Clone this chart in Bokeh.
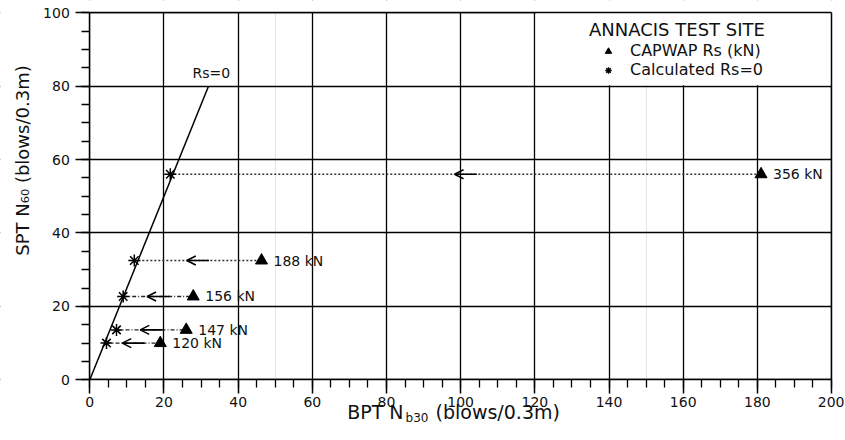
import math
from bokeh.plotting import figure
from bokeh.models import (SingleIntervalTicker, FixedTicker, Range1d, Label, Legend, LegendItem,
                          Arrow, OpenHead, ColumnDataSource, BoxAnnotation, CDSView, IndexFilter,
                          LinearAxis, Grid)
from bokeh.core.properties import value
from bokeh.embed import file_html
from bokeh.resources import INLINE

# ---- data ----
capwap_rs = ["356 kN", "188 kN", "156 kN", "147 kN", "120 kN"]
n60 = [56.0, 32.5, 22.7, 13.6, 10.0]
nb30_capwap = [181.0, 46.3, 27.9, 26.0, 19.0]
nb30_calc = [21.7, 12.0, 9.0, 7.2, 4.5]
rs0_x = [0, 32]
rs0_y = [0, 80]
x_bounds = (0, 200)
y_bounds = (0, 100)
tick_interval = 20

FONT = "DejaVu Sans"
INK = "#111111"

mid = [(a + b) / 2 for a, b in zip(nb30_calc, nb30_capwap)]
src = ColumnDataSource(dict(
    calc=nb30_calc, capwap=nb30_capwap, n60=n60, label=capwap_rs,
    xs=[m + 3 for m in mid], xe=[m - 3 for m in mid],
))

# frame fills the whole canvas; axes are fixed at the data origin
p = figure(width=844, height=439, x_range=Range1d(-24.08, 203.5), y_range=Range1d(-16.27, 103.35),
           output_backend="svg", toolbar_location=None,
           x_axis_location=None, y_axis_location=None, min_border=0)
p.background_fill_color = "white"
p.border_fill_color = "white"
p.outline_line_color = None

for dim in (0, 1):
    g = Grid(dimension=dim, ticker=SingleIntervalTicker(interval=tick_interval),
             grid_line_color="black", grid_line_width=1.3)
    p.add_layout(g, "center")

# white masks outside the plotting area and behind the legend
for kw in (dict(right=x_bounds[0]), dict(top=y_bounds[0]), dict(left=x_bounds[1]),
           dict(bottom=y_bounds[1]), dict(left=120.25, bottom=80.25)):
    p.add_layout(BoxAnnotation(fill_color="white", fill_alpha=1, line_alpha=0,
                               level="underlay", **kw))


def style_axis(ax):
    ax.axis_line_color = "black"
    ax.axis_line_width = 1.5
    ax.major_tick_line_color = "black"
    ax.major_tick_line_width = 1.5
    ax.minor_tick_line_color = "black"
    ax.minor_tick_line_width = 1.3
    ax.major_tick_in = 0
    ax.minor_tick_in = 0
    ax.major_tick_out = 14
    ax.minor_tick_out = 8
    ax.major_label_text_font = FONT
    ax.major_label_text_font_size = "14px"
    ax.major_label_text_color = INK


xax = LinearAxis(fixed_location=0, bounds=x_bounds,
                 ticker=SingleIntervalTicker(interval=tick_interval, num_minor_ticks=4))
style_axis(xax)
xax.major_label_standoff = 3
p.add_layout(xax, "below")

yax = LinearAxis(fixed_location=0, bounds=y_bounds,
                 ticker=SingleIntervalTicker(interval=tick_interval, num_minor_ticks=4))
style_axis(yax)
yax.major_label_standoff = 6
p.add_layout(yax, "left")

# top and right border lines
for place, loc, bnds in (("above", y_bounds[1], x_bounds), ("right", x_bounds[1], y_bounds)):
    b = LinearAxis(fixed_location=loc, bounds=bnds, ticker=FixedTicker(ticks=[]),
                   axis_line_color="black", axis_line_width=1.5,
                   major_tick_out=0, major_tick_in=0, minor_tick_out=0, minor_tick_in=0)
    p.add_layout(b, place)

# dotted connection lines
p.segment(x0="calc", y0="n60", x1="capwap", y1="n60", source=src,
          view=CDSView(filter=IndexFilter([0, 1])),
          line_color="#333333", line_width=1.3, line_dash="2 2")
p.segment(x0="calc", y0="n60", x1="capwap", y1="n60", source=src,
          view=CDSView(filter=IndexFilter([2, 3, 4])),
          line_color="#222222", line_width=1.3, line_dash="4 2 1 2")

# Rs = 0 line
p.line(rs0_x, rs0_y, line_color="black", line_width=1.5)

# arrows
p.add_layout(Arrow(end=OpenHead(size=9, line_width=1.5, line_color="black"),
                   x_start="xs", y_start="n60", x_end="xe", y_end="n60",
                   source=src, line_width=1.6, line_color="black"))

tri = p.scatter(x="capwap", y="n60", source=src, marker="triangle", size=12,
                fill_color="black", line_color="black")
ast = p.scatter(x="calc", y="n60", source=src, marker="asterisk", size=12,
                line_color="black", line_width=1.5)

p.text(x="capwap", y="n60", text="label", source=src, x_offset=12,
       text_baseline="middle", text_align="left", text_font=value(FONT),
       text_font_size="14px", text_color=INK)

p.add_layout(Label(x=rs0_x[1], y=rs0_y[1], text="Rs=0", x_offset=-16, y_offset=5,
                   text_font=FONT, text_font_size="14px", text_color=INK,
                   text_baseline="bottom", text_align="left"))

legend = Legend(items=[LegendItem(label="CAPWAP Rs (kN)", renderers=[tri]),
                       LegendItem(label="Calculated Rs=0", renderers=[ast])],
                title="ANNACIS TEST SITE", location=(589, 360),
                title_text_font=FONT, title_text_font_size="18px", title_text_font_style="normal",
                title_text_color=INK, title_standoff=1,
                label_text_font=FONT, label_text_font_size="16px", label_text_color=INK,
                glyph_width=38, glyph_height=16, label_height=16, label_standoff=3,
                spacing=0, padding=0, margin=0,
                background_fill_alpha=0, border_line_alpha=0)
p.add_layout(legend)

# axis titles
p.add_layout(Label(x=-18.15, y=59.75, text="SPT N\u2086\u2080 (blows/0.3m)", angle=math.pi / 2,
                   text_font=FONT, text_font_size="18px", text_color=INK,
                   text_align="center", text_baseline="middle"))
p.add_layout(Label(x=84.6, y=-8.9, text="BPT N", text_font=FONT, text_font_size="19px",
                   text_color=INK, text_align="right", text_baseline="middle"))
p.add_layout(Label(x=84.6, y=-10.4, x_offset=2, text="b30", text_font=FONT,
                   text_font_size="12px", text_color=INK, text_align="left",
                   text_baseline="middle"))
p.add_layout(Label(x=84.6, y=-8.9, x_offset=32, text="(blows/0.3m)", text_font=FONT,
                   text_font_size="19px", text_color=INK, text_align="left",
                   text_baseline="middle"))

open("out.html", "w").write(file_html(p, INLINE))
